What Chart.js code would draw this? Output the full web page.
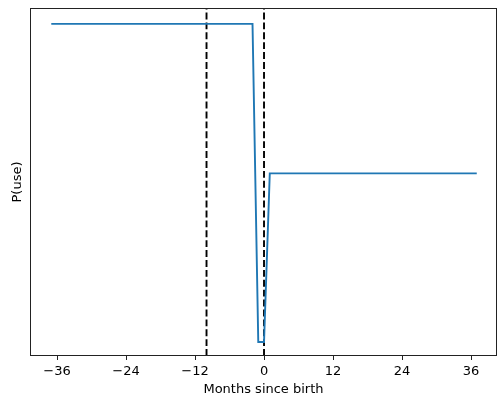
<!DOCTYPE html>
<html><head><meta charset="utf-8">
<script src="https://cdn.jsdelivr.net/npm/chart.js@4/dist/chart.umd.min.js"></script>
<style>html,body{margin:0;padding:0;background:#fff}#wrap{width:497px;height:402px}</style>
</head><body><div id="wrap"><canvas id="c" width="497" height="402"></canvas></div>
<script>
// Months since birth and estimated P(use) (arbitrary scale; no y ticks shown)
const months = [];
for (let m = -37; m <= 37; m++) months.push(m);
const highLevel = 1.0, lowLevel = 0.0, midLevel = 0.53;
const pUse = months.map(m => (m <= -2 ? highLevel : (m <= 0 ? lowLevel : midLevel)));
const xTicks = [-36, -24, -12, 0, 12, 24, 36];
const vlines = [-10, 0];
const xRange = [-40.7, 40.52];
const yRange = [-0.044, 1.05];

const lineData = months.map((m, i) => ({x: m, y: pUse[i]}));
const vlineSets = vlines.map(v => ({
  data: [{x: v, y: yRange[0]}, {x: v, y: yRange[1]}],
  borderColor: '#000', borderWidth: 1.9, borderDash: [6.9, 3],
  pointRadius: 0, fill: false, tension: 0
}));

const frame = {
  id: 'frame',
  afterDraw(chart) {
    const {ctx, chartArea: a} = chart;
    ctx.save();
    ctx.strokeStyle = '#222'; ctx.lineWidth = 1;
    ctx.strokeRect(Math.round(a.left) + 0.5, Math.round(a.top) + 0.5,
      Math.round(a.right - a.left) - 1, Math.round(a.bottom - a.top) - 1);
    ctx.restore();
  }
};

new Chart(document.getElementById('c'), {
  type: 'line',
  data: {
    datasets: [
      {data: lineData, borderColor: '#1f77b4', borderWidth: 1.9, pointRadius: 0, fill: false, tension: 0},
      ...vlineSets
    ]
  },
  options: {
    responsive: false, animation: false,
    devicePixelRatio: 1,
    layout: {padding: {top: 8, left: 0, right: 0, bottom: 0}},
    plugins: {legend: {display: false}, tooltip: {enabled: false}},
    scales: {
      x: {
        type: 'linear', min: xRange[0], max: xRange[1],
        afterBuildTicks: s => { s.ticks = xTicks.map(v => ({value: v})); },
        afterFit: s => { s.height = 46; },
        border: {display: false},
        grid: {drawOnChartArea: false, drawTicks: true, tickLength: 4, color: '#222', tickWidth: 1},
        ticks: {
          color: '#000', padding: 4, maxRotation: 0,
          font: {family: 'DejaVu Sans', size: 13},
          callback: v => String(v).replace('-', '\u2212')
        },
        title: {display: true, text: 'Months since birth', color: '#000',
          font: {family: 'DejaVu Sans', size: 13}, padding: {top: 0, bottom: 5}}
      },
      y: {
        type: 'linear', min: yRange[0], max: yRange[1],
        afterFit: s => { s.width = 30; },
        border: {display: false},
        grid: {display: false},
        ticks: {display: false},
        title: {display: true, text: 'P(use)', color: '#000',
          font: {family: 'DejaVu Sans', size: 13}, padding: {top: 10, bottom: 0}}
      }
    }
  },
  plugins: [frame]
});
</script></body></html>
